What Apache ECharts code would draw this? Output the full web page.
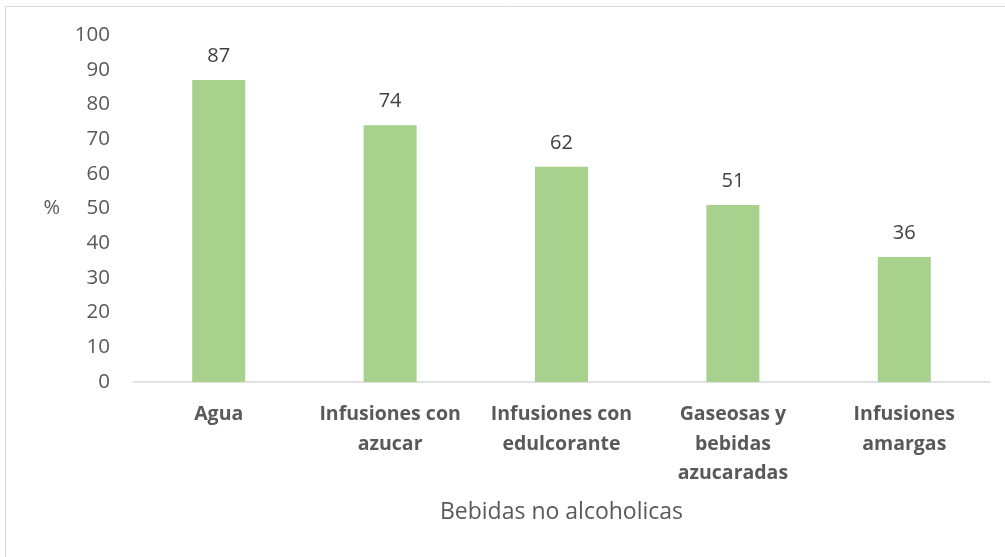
<!DOCTYPE html>
<html>
<head>
<meta charset="utf-8">
<script src="https://cdn.jsdelivr.net/npm/echarts@6/dist/echarts.min.js"></script>
<style>
  html, body { margin: 0; padding: 0; background: #fff; }
  #chart { width: 1005px; height: 557px; }
</style>
</head>
<body>
<div id="chart"></div>
<script>
  var categories = ['Agua', 'Infusiones con\nazucar', 'Infusiones con\nedulcorante', 'Gaseosas y\nbebidas\nazucaradas', 'Infusiones\namargas'];
  var values = [87, 74, 62, 51, 36];

  var myChart = echarts.init(document.getElementById('chart'));
  var option = {
    animation: false,
    textStyle: { fontFamily: 'Open Sans' },
    graphic: [{
      type: 'rect',
      shape: { x: 5.5, y: 6.5, width: 1010, height: 560 },
      style: { fill: 'none', stroke: '#d9d9d9', lineWidth: 1 },
      silent: true
    }],
    grid: { left: 133, right: 15, top: 35, bottom: 175 },
    xAxis: {
      type: 'category',
      data: categories,
      name: 'Bebidas no alcoholicas',
      nameLocation: 'middle',
      nameGap: 119,
      nameTextStyle: { fontSize: 23, color: '#595959' },
      axisLine: { lineStyle: { color: '#d9d9d9', width: 1.5 } },
      axisTick: { show: false },
      axisLabel: {
        fontSize: 19.5, fontWeight: 'bold', color: '#595959',
        lineHeight: 29.5, margin: 18, interval: 0
      }
    },
    yAxis: {
      type: 'value',
      min: 0, max: 100, interval: 10,
      name: '%',
      nameLocation: 'middle',
      nameGap: 73,
      nameRotate: 0,
      nameTextStyle: { fontSize: 20, color: '#595959', padding: [10, 0, 0, 0] },
      axisLine: { show: false },
      axisTick: { show: false },
      splitLine: { show: false },
      axisLabel: { fontSize: 20.5, color: '#595959', margin: 23 }
    },
    series: [{
      type: 'bar',
      data: values,
      barWidth: 53,
      itemStyle: { color: '#A9D18E' },
      label: {
        show: true, position: 'top', distance: 14,
        fontSize: 20, color: '#404040'
      }
    }]
  };
  myChart.setOption(option);
</script>
</body>
</html>
